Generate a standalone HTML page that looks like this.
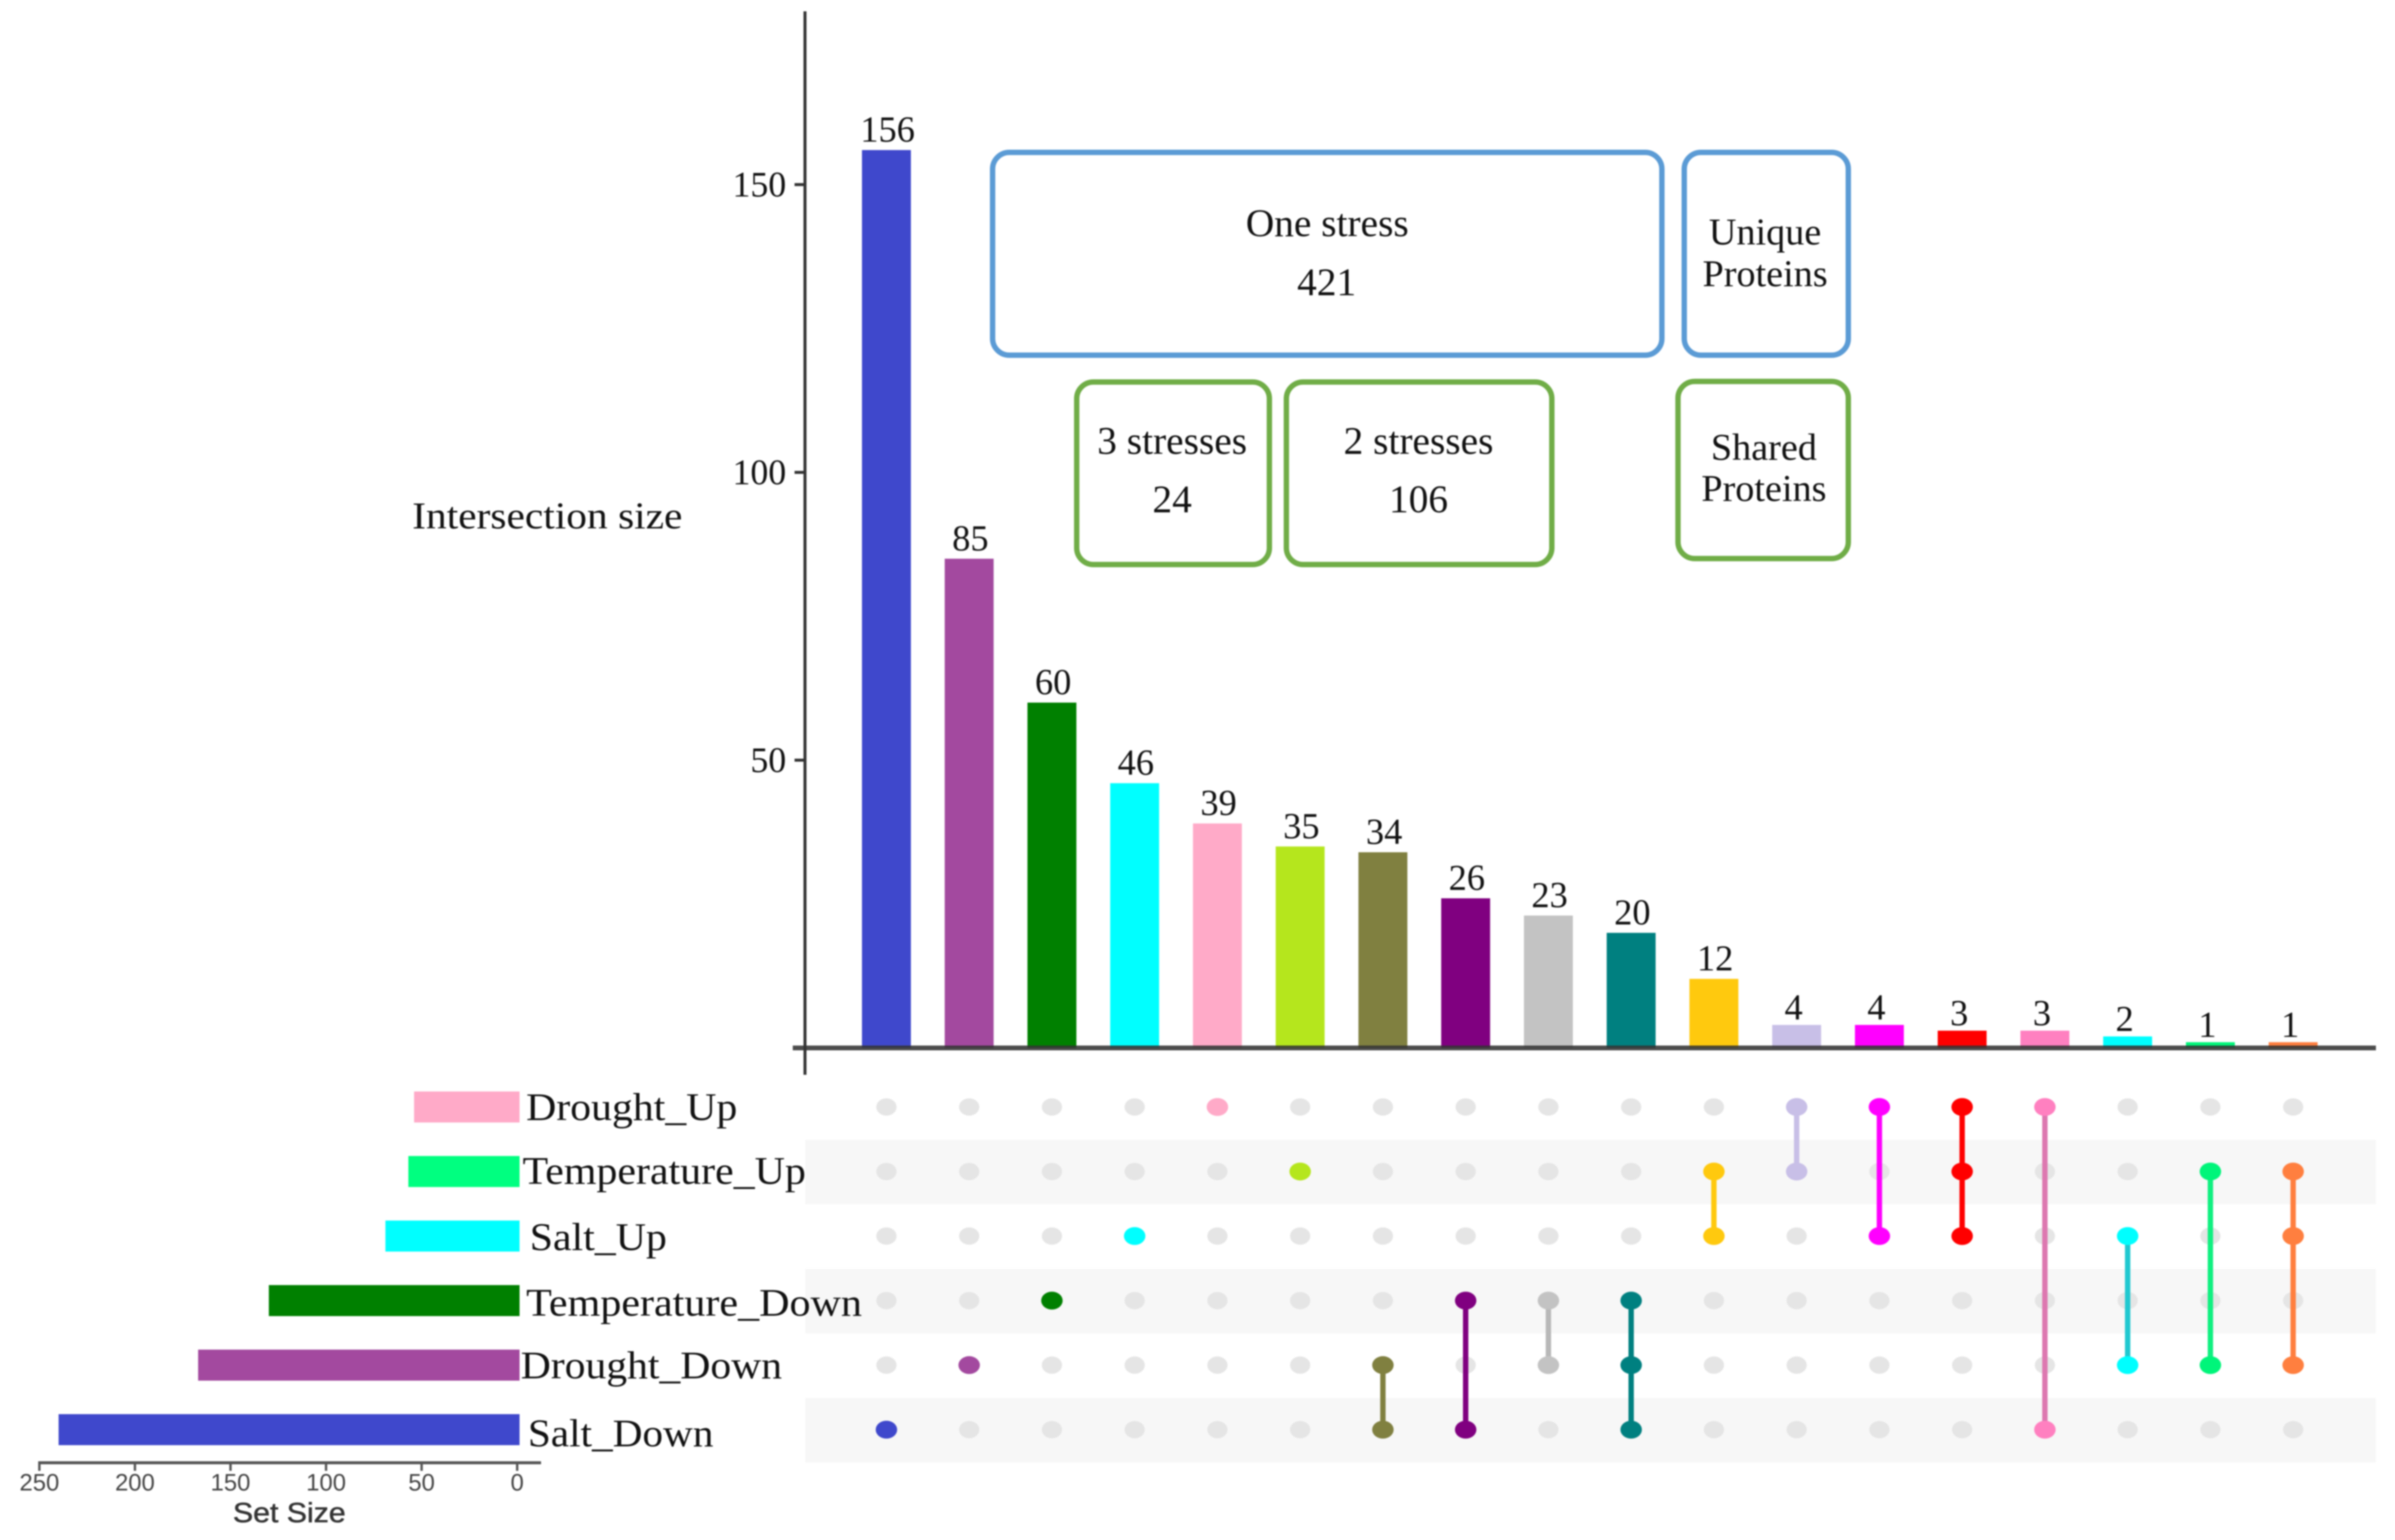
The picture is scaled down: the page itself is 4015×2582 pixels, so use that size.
<!DOCTYPE html>
<html lang="en">
<head>
<meta charset="utf-8">
<title>UpSet plot of stress-responsive proteins</title>
<style>
html,body{margin:0;padding:0;background:#fff;}
svg{display:block;filter:blur(1.3px);}
.serif{font-family:"Liberation Serif",serif;fill:#111;}
.sans{font-family:"Liberation Sans",sans-serif;fill:#444;}
.box{fill:none;stroke-width:9;}
</style>
</head>
<body>
<svg id="chart" xmlns="http://www.w3.org/2000/svg" width="4015" height="2582" viewBox="0 0 4015 2582">
  <rect width="4015" height="2582" fill="#fff"/>
  <g id="stripes"></g>
  <g id="setBars"></g>
  <g id="bars"></g>
  <g id="barValues"></g>
  <g id="matrix"></g>
  <g id="axes"></g>

  <text class="serif" x="691" y="886" font-size="64" textLength="453" lengthAdjust="spacingAndGlyphs">Intersection size</text>

  <text class="serif" x="882" y="1878" font-size="66" textLength="354" lengthAdjust="spacingAndGlyphs">Drought_Up</text>
  <text class="serif" x="876" y="1985" font-size="66" textLength="475" lengthAdjust="spacingAndGlyphs">Temperature_Up</text>
  <text class="serif" x="888" y="2096" font-size="66" textLength="230" lengthAdjust="spacingAndGlyphs">Salt_Up</text>
  <text class="serif" x="882" y="2206" font-size="66" textLength="563" lengthAdjust="spacingAndGlyphs">Temperature_Down</text>
  <text class="serif" x="873" y="2311" font-size="66" textLength="438" lengthAdjust="spacingAndGlyphs">Drought_Down</text>
  <text class="serif" x="885" y="2425" font-size="66" textLength="311" lengthAdjust="spacingAndGlyphs">Salt_Down</text>

  <text class="sans" x="485" y="2552" font-size="46" text-anchor="middle" style="fill:#333" stroke="#333" stroke-width="0.8" textLength="189" lengthAdjust="spacingAndGlyphs">Set Size</text>

  <rect class="box" x="1664" y="255.5" width="1122" height="340" rx="28" stroke="#5b9bd5"/>
  <text class="serif" x="2225" y="396" font-size="66" text-anchor="middle">One stress</text>
  <text class="serif" x="2224" y="495" font-size="66" text-anchor="middle">421</text>

  <rect class="box" x="2823.5" y="255.5" width="275" height="340" rx="28" stroke="#5b9bd5"/>
  <text class="serif" x="2959" y="410" font-size="64" text-anchor="middle">Unique</text>
  <text class="serif" x="2959" y="480" font-size="64" text-anchor="middle">Proteins</text>

  <rect class="box" x="1805" y="640.5" width="323" height="306" rx="28" stroke="#70ad47"/>
  <text class="serif" x="1965" y="761" font-size="66" text-anchor="middle">3 stresses</text>
  <text class="serif" x="1965" y="859" font-size="66" text-anchor="middle">24</text>

  <rect class="box" x="2156.5" y="640.5" width="445" height="306" rx="28" stroke="#70ad47"/>
  <text class="serif" x="2378" y="761" font-size="66" text-anchor="middle">2 stresses</text>
  <text class="serif" x="2378" y="859" font-size="66" text-anchor="middle">106</text>

  <rect class="box" x="2813" y="639.5" width="285.5" height="297" rx="28" stroke="#70ad47"/>
  <text class="serif" x="2957" y="771" font-size="64" text-anchor="middle">Shared</text>
  <text class="serif" x="2957" y="840" font-size="64" text-anchor="middle">Proteins</text>
</svg>

<script>
var intersectionSizes = [156, 85, 60, 46, 39, 35, 34, 26, 23, 20, 12, 4, 4, 3, 3, 2, 1, 1];
var intersectionColors = ['#3f48cc', '#a3499f', '#008000', '#00ffff', '#ffaac8', '#b5e61d', '#808040', '#800080', '#c3c3c3', '#008080', '#ffc90e', '#c8bfe7', '#ff00ff', '#ff0000', '#ff80c0', '#00ffff', '#00f57a', '#ff7f3f'];
var connectorColors = ['#3f48cc', '#a3499f', '#008000', '#00ffff', '#ffaac8', '#b5e61d', '#808040', '#800080', '#b8b8b8', '#008080', '#ffc90e', '#c8bfe7', '#ff00ff', '#ff0000', '#dd78b0', '#20c8d0', '#10f080', '#ff7f3f'];
var intersectionMembers = [[5], [4], [3], [2], [0], [1], [4, 5], [3, 5], [3, 4], [3, 4, 5], [1, 2], [0, 1], [0, 2], [0, 1, 2], [0, 5], [2, 4], [1, 4], [1, 2, 4]];
var setNames = ['Drought_Up', 'Temperature_Up', 'Salt_Up', 'Temperature_Down', 'Drought_Down', 'Salt_Down'];
var setSizes = [53, 56, 68, 129, 166, 239];
var setColors = ['#ffaac8', '#00ff80', '#00ffff', '#008000', '#a3499f', '#3f48cc'];
var stripedRows = [1, 3, 5];
var yTicks = [50, 100, 150];
var setSizeTicks = [250, 200, 150, 100, 50, 0];

var SVG_NS = 'http://www.w3.org/2000/svg';
function mk(parentId, tag, attrs, text) {
  var node = document.createElementNS(SVG_NS, tag);
  for (var key in attrs) { node.setAttribute(key, attrs[key]); }
  if (text !== undefined) { node.textContent = text; }
  document.getElementById(parentId).appendChild(node);
  return node;
}
function colX(i) { return 1486 + 138.72 * i; }
function rowY(r) { return 1856 + 108.2 * r; }
function yScale(v) { return 1757 - 9.65 * v; }
function setX(v) { return 867 - 3.204 * v; }

stripedRows.forEach(function (r) {
  var el = mk('stripes', 'rect', { x: 1350, y: rowY(r) - 53, width: 2633, height: 108, fill: '#f7f7f7' });
  
  
});

setSizes.forEach(function (v, r) {
  var x = setX(v) - 3;
  var el = mk('setBars', 'rect', { x: x, y: rowY(r) - 26, width: 871 - x, height: 52, fill: setColors[r] });
  
  
});

intersectionSizes.forEach(function (v, i) {
  var top = yScale(v);
  var bar = mk('bars', 'rect', { x: colX(i) - 41, y: top, width: 82, height: 1757 - top, fill: intersectionColors[i] });
  
  
  var small = v <= 4;
  var label = mk('barValues', 'text', { x: colX(i) + (small ? -5 : 2), y: top - (small ? 9 : 14), 'font-size': 61, 'text-anchor': 'middle', 'class': 'serif' }, String(v));
  
  
});

intersectionSizes.forEach(function (v, i) {
  setNames.forEach(function (name, r) {
    var dot = mk('matrix', 'ellipse', { cx: colX(i), cy: rowY(r), rx: 17, ry: 14.5, fill: '#e5e5e5' });
    
    
  });
});
intersectionMembers.forEach(function (members, i) {
  if (members.length > 1) {
    var line = mk('matrix', 'line', {
      x1: colX(i), x2: colX(i),
      y1: rowY(Math.min.apply(null, members)),
      y2: rowY(Math.max.apply(null, members)),
      stroke: connectorColors[i], 'stroke-width': 9
    });
    
    
  }
  members.forEach(function (r) {
    var dot = mk('matrix', 'ellipse', { cx: colX(i), cy: rowY(r), rx: 18, ry: 15, fill: intersectionColors[i] });
    
    
  });
});

var yAxisLine = mk('axes', 'rect', { x: 1347, y: 19, width: 5, height: 1783, fill: '#333' });


var zeroLine = mk('axes', 'rect', { x: 1329, y: 1753, width: 2654, height: 8, fill: '#333', 'fill-opacity': 0.88 });



yTicks.forEach(function (t) {
  var tick = mk('axes', 'rect', { x: 1332, y: yScale(t) - 2.5, width: 18, height: 5, fill: '#333' });
  
  
  var label = mk('axes', 'text', { x: 1318, y: yScale(t) + 20, 'font-size': 60, 'text-anchor': 'end', 'class': 'serif' }, String(t));
  
  
});

var setAxisLine = mk('axes', 'rect', { x: 64, y: 2450, width: 843, height: 5, fill: '#555' });


setSizeTicks.forEach(function (t) {
  var tick = mk('axes', 'rect', { x: setX(t) - 2, y: 2450, width: 4, height: 16, fill: '#555' });
  
  
  var label = mk('axes', 'text', { x: setX(t), y: 2499, 'font-size': 40, 'text-anchor': 'middle', 'class': 'sans' }, String(t));
  
  
});
</script>
</body>
</html>
